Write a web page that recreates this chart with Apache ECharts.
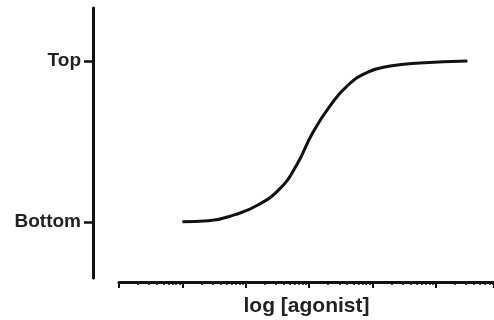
<!DOCTYPE html>
<html>
<head>
<meta charset="utf-8">
<script src="https://cdn.jsdelivr.net/npm/echarts@6/dist/echarts.min.js"></script>
<style>
  html, body { margin: 0; padding: 0; background: #fff; }
  #chart { width: 494px; height: 320px; }
</style>
</head>
<body>
<div id="chart"></div>
<script>
// log10 of agonist concentration
const logAgonist = [-9.0, -8.59, -8.17, -7.8, -7.46, -7.2, -6.94, -6.67, -6.4, -6.07, -5.72, -5.25, -4.5];
// response, Bottom = 0, Top = 100
const response = [0, 0.6, 4.4, 10.6, 20.6, 35, 55.6, 72, 84.4, 93.1, 96.9, 98.8, 100];

const yTickValues = [0, 100];
const yTickLabels = ["Bottom", "Top"];

const xMin = -10;
const xMax = -4.08;

// minor log ticks (2..9 in each decade)
const minorTicks = [];
for (let d = xMin; d < xMax; d++) {
  for (let k = 2; k <= 9; k++) {
    const v = d + Math.log10(k);
    if (v <= xMax) minorTicks.push(v);
  }
}

const chart = echarts.init(document.getElementById("chart"));
const ink = "#111";

chart.setOption({
  animation: false,
  grid: { left: 119, right: 0, top: 8, bottom: 42, containLabel: false, outerBoundsMode: "none" },
  xAxis: [
    {
      type: "value",
      min: xMin,
      max: xMax,
      interval: 1,
      position: "bottom",
      offset: 4,
      name: "log [agonist]",
      nameLocation: "middle",
      nameGap: 14,
      nameTextStyle: { fontFamily: "Liberation Sans", fontWeight: "bold", fontSize: 21, color: "#222" },
      axisLine: { onZero: false, lineStyle: { color: ink, width: 3 } },
      axisTick: { length: 6, lineStyle: { color: ink, width: 2 } },
      axisLabel: { show: false },
      splitLine: { show: false },
    },
    {
      type: "value",
      min: xMin,
      max: xMax,
      position: "bottom",
      offset: 4,
      axisLine: { show: false, onZero: false },
      axisTick: { customValues: minorTicks, length: 3, lineStyle: { color: ink, width: 1.5 } },
      axisLabel: { show: false },
      splitLine: { show: false },
    },
  ],
  yAxis: {
    type: "value",
    min: -35,
    max: 133,
    offset: 26,
    axisLine: { show: true, onZero: false, lineStyle: { color: ink, width: 3 } },
    axisTick: { customValues: yTickValues, length: 9, lineStyle: { color: ink, width: 2.5 } },
    axisLabel: {
      customValues: yTickValues,
      margin: 12,
      fontFamily: "Liberation Sans",
      fontWeight: "bold",
      fontSize: 19,
      color: "#222",
      formatter: (v) => yTickLabels[yTickValues.indexOf(v)],
    },
    splitLine: { show: false },
  },
  series: [
    {
      type: "line",
      data: logAgonist.map((x, i) => [x, response[i]]),
      smooth: 0.5,
      showSymbol: false,
      lineStyle: { color: ink, width: 3 },
    },
  ],
});
</script>
</body>
</html>
